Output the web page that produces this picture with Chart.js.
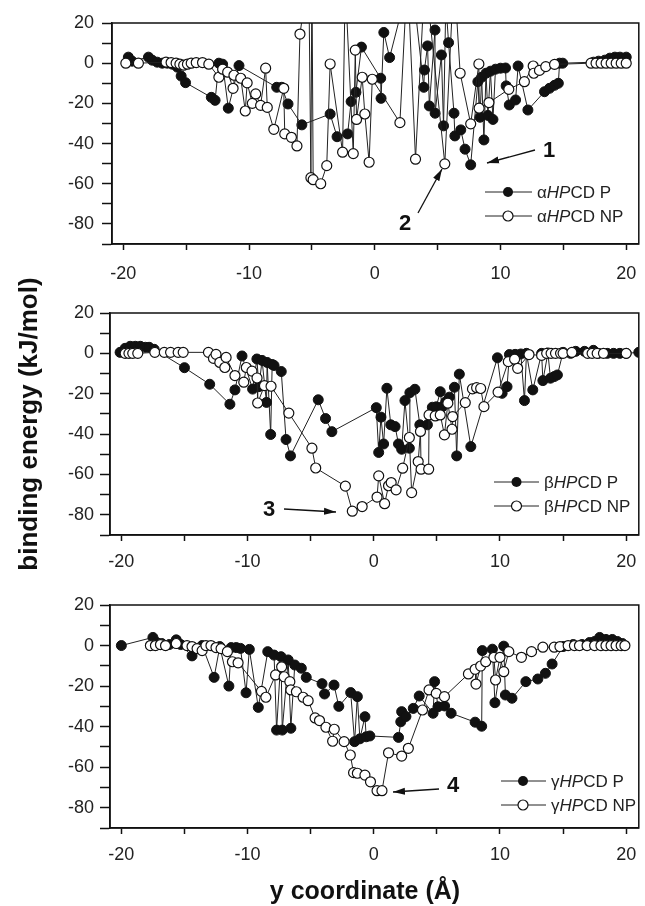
<!DOCTYPE html>
<html>
<head>
<meta charset="utf-8">
<script src="https://cdn.jsdelivr.net/npm/chart.js@4.4.1/dist/chart.umd.min.js"></script>
<style>
body { margin: 0; background: #fff; width: 645px; height: 906px; position: relative; overflow: hidden; font-family: "Liberation Sans", Arial, sans-serif; }
.panel { position: absolute; left: 0; }
svg { position: absolute; left: 0; top: 0; pointer-events: none; }
</style>
</head>
<body>
<div class="panel"><canvas id="c1"></canvas></div>
<div class="panel"><canvas id="c2"></canvas></div>
<div class="panel"><canvas id="c3"></canvas></div>

<svg width="645" height="906" font-family="Liberation Sans, Arial, sans-serif">
  <defs>
    <marker id="ah" viewBox="0 0 12 8" refX="12" refY="4" markerWidth="12" markerHeight="8" orient="auto" markerUnits="userSpaceOnUse">
      <path d="M0,0.5 L12,4 L0,7.5 z" fill="#111"/>
    </marker>
  </defs>

  <!-- legends -->
  <g stroke="#222" stroke-width="1">
    <line x1="485" y1="192" x2="532" y2="192"/><line x1="485" y1="216" x2="532" y2="216"/>
    <line x1="494" y1="482" x2="539" y2="482"/><line x1="494" y1="506" x2="539" y2="506"/>
    <line x1="501" y1="781" x2="546" y2="781"/><line x1="501" y1="805" x2="546" y2="805"/>
  </g>
  <circle cx="508" cy="192" r="5" fill="#111"/>
  <circle cx="508" cy="216" r="5" fill="#fff" stroke="#111" stroke-width="1.2"/>
  <circle cx="516.5" cy="482" r="5" fill="#111"/>
  <circle cx="516.5" cy="506" r="5" fill="#fff" stroke="#111" stroke-width="1.2"/>
  <circle cx="523" cy="781" r="5" fill="#111"/>
  <circle cx="523" cy="805" r="5" fill="#fff" stroke="#111" stroke-width="1.2"/>
  <g font-size="17" fill="#222">
    <text x="537" y="198">α<tspan font-style="italic">HP</tspan>CD P</text>
    <text x="537" y="222">α<tspan font-style="italic">HP</tspan>CD NP</text>
    <text x="544" y="488">β<tspan font-style="italic">HP</tspan>CD P</text>
    <text x="544" y="512">β<tspan font-style="italic">HP</tspan>CD NP</text>
    <text x="551" y="787">γ<tspan font-style="italic">HP</tspan>CD P</text>
    <text x="551" y="811">γ<tspan font-style="italic">HP</tspan>CD NP</text>
  </g>

  <!-- annotations -->
  <g font-size="22" font-weight="bold" fill="#111" text-anchor="middle">
    <text x="549" y="157">1</text>
    <text x="405" y="230">2</text>
    <text x="269" y="516">3</text>
    <text x="453" y="792">4</text>
  </g>
  <g stroke="#111" stroke-width="1.3" marker-end="url(#ah)">
    <line x1="535" y1="150" x2="487" y2="163"/>
    <line x1="418" y1="213" x2="442" y2="169"/>
    <line x1="284" y1="509" x2="336" y2="512"/>
    <line x1="439" y1="789" x2="393" y2="792"/>
  </g>

  <!-- axis titles -->
  <text transform="translate(37,424) rotate(-90)" text-anchor="middle" font-size="26" font-weight="bold" fill="#111">binding energy (kJ/mol)</text>
  <text x="365" y="899" text-anchor="middle" font-size="25" font-weight="bold" fill="#111">y coordinate (Å)</text>
</svg>

<script>
// [x (Å), binding energy (kJ/mol)]
const alphaP = [[-19.6,3],[-19.3,1],[-18.0,3],[-17.7,1.5],[-17.3,0.5],[-16.9,0],[-16.5,0],[-16.1,-0.5],[-15.7,-2],[-15.4,-6.4],[-15.05,-9.7],
  [-13.0,-17],[-12.7,-18.5],[-12.4,0],[-12.1,-0.5],[-11.65,-22.4],[-10.8,-1.2],[-7.8,-12],[-7.4,-12],[-6.9,-20.3],[-5.8,-30.7],
  [-3.55,-25.3],[-3.0,-36.6],[-2.16,-35.2],[-1.88,-19.1],[-1.5,-14.5],[-1.06,8],[0.47,-7.5],[0.5,-17.5],[0.72,15.3],[1.18,2.8],
  [2.9,45],[3.9,-12],[3.95,-3.4],[4.2,8.6],[4.34,-21.3],[4.79,16.5],[4.8,-24.9],[5.3,4.1],[5.47,-31.2],[5.65,30],[5.87,10.2],
  [6.3,-24.9],[6.37,-36.2],[6.84,-33.2],[7.18,-42.8],[7.63,-50.6],[8.2,-9.2],[8.37,-26.9],[8.5,-7],[8.68,-38.2],[8.85,-5],
  [9.0,-26],[9.2,-4],[9.4,-28],[9.6,-3],[10.0,-2.5],[10.4,-2.4],[10.45,-11.3],[10.7,-20.8],[11.2,-18.3],[11.4,-1.4],[12.18,-23.3],
  [13.5,-14.2],[13.9,-12.5],[14.3,-11],[14.6,-10],[14.7,0],[14.95,0],[17.4,0.5],[17.8,1],[18.3,1.5],[18.7,2.5],[19.1,3],[19.5,3],[20.0,3]];

const alphaNP = [[-19.8,0],[-18.8,0],[-16.6,0.5],[-16.2,0.3],[-15.8,0],[-15.5,-0.5],[-15.2,-1],[-14.9,-0.5],[-14.6,0],[-14.2,0.3],[-13.7,0.3],
  [-13.2,-0.5],[-12.4,-7],[-12.1,-3],[-11.7,-4.5],[-11.27,-12.5],[-11.2,-6],[-10.66,-7.5],[-10.3,-23.8],[-10.15,-9.8],[-9.74,-20],
  [-9.47,-15.3],[-9.08,-21],[-8.68,-2.5],[-8.55,-22],[-8.03,-32.9],[-7.24,-12.5],[-7.16,-35.2],[-6.63,-36.9],[-6.19,-41.2],[-5.95,14.5],
  [-5.25,45],[-5.08,-57],[-5.0,45],[-4.9,-58],[-4.3,-60],[-3.82,-51],[-3.55,-0.4],[-2.56,-44.3],[-2.35,40],[-1.71,-45],[-1.55,6.5],
  [-1.45,-28],[-1.0,-7],[-0.79,-25.3],[-0.45,-49.3],[-0.2,-8],[2.0,-29.6],[2.6,45],[3.24,-47.8],[4.0,45],[5.57,-50.1],[6.3,45],
  [6.79,-5],[7.63,-30.2],[8.28,-0.4],[8.3,-22.4],[9.08,-19.6],[10.66,-13],[11.9,-9.2],[12.6,-1.4],[12.65,-5],[13.1,-3.6],[13.6,-1.7],
  [14.3,-0.6],[17.2,0],[17.6,0],[18.0,0],[18.4,0],[18.8,0],[19.2,0],[19.6,0],[20.0,0]];

const betaP = [[-20.1,0.5],[-19.7,2.5],[-19.3,3.5],[-18.9,3.5],[-18.5,3.5],[-18.1,3],[-17.8,3],[-17.4,2],[-15.0,-7.1],[-13.0,-15.3],
  [-11.4,-25.2],[-11.0,-18.1],[-10.44,-1.3],[-9.6,-17.7],[-9.26,-2.8],[-9.1,-16.5],[-8.85,-3.5],[-8.5,-24.3],[-8.45,-4.5],[-8.17,-40.2],
  [-8.05,-5.5],[-7.9,-6],[-7.33,-9],[-6.95,-42.7],[-6.6,-50.8],[-4.4,-23],[-3.82,-32.3],[-3.32,-38.8],[0.2,-26.9],[0.39,-49.1],
  [0.57,-31.6],[0.78,-44.9],[1.04,-17.3],[1.35,-35.4],[1.69,-36.3],[1.96,-44.9],[2.21,-47.5],[2.47,-23.4],[2.82,-47],[2.86,-19.5],
  [3.26,-17.8],[3.65,-35.4],[4.25,-35.4],[4.64,-26.7],[4.95,-26.5],[5.27,-19],[5.42,-26.5],[5.7,-24],[5.99,-21.7],[6.39,-16.8],
  [6.57,-50.8],[6.78,-10.3],[7.69,-46.2],[9.8,-2.2],[10.17,-19.8],[10.56,-16.5],[10.75,-0.6],[11.2,-0.5],[11.65,-0.3],[11.94,-23.4],
  [12.1,0],[12.6,-18.1],[13.3,0],[13.4,-13.5],[13.8,0.2],[14.0,-12.3],[14.3,-11.5],[14.55,-10.7],[15.0,0.5],[15.6,0],[16.0,1],
  [16.7,1],[17.4,1.5],[17.8,0],[18.5,0],[19.0,0],[19.5,0],[20.0,0],[21.0,0.5]];

const betaNP = [[-19.7,0],[-19.4,0],[-19.1,0],[-18.7,0],[-17.35,0.5],[-16.6,0.5],[-16.1,0.5],[-15.5,0.5],[-15.1,0.5],[-13.1,0.5],
  [-12.7,-2.5],[-12.5,-0.5],[-12.2,-4.5],[-11.8,-7],[-11.7,-2],[-11.0,-11],[-10.3,-14.3],[-10.1,-7],[-9.65,-8.8],[-9.25,-12.2],
  [-9.2,-24.6],[-8.66,-16],[-8.14,-16.3],[-6.73,-29.6],[-4.9,-47],[-4.6,-56.8],[-2.25,-65.8],[-1.7,-78.2],[-0.92,-75.9],[0.26,-71.2],
  [0.39,-60.7],[0.86,-74.5],[1.17,-65.6],[1.38,-64],[1.77,-67.6],[2.29,-56.9],[2.82,-41.7],[3.0,-69],[3.52,-53.6],[3.7,-38.7],
  [3.75,-57.4],[4.35,-57.4],[4.38,-30.5],[4.87,-31],[5.27,-30.5],[5.6,-40.4],[5.87,-24.7],[6.2,-37.6],[6.25,-31.3],[7.25,-24.4],
  [7.82,-17.6],[8.15,-17],[8.47,-17.4],[8.73,-26.4],[9.85,-19.2],[10.66,-4.1],[11.16,-2.9],[11.4,-7.4],[12.3,-0.6],[13.3,-1],
  [13.7,0],[14.05,0],[14.4,0],[14.8,0],[15.0,0],[15.7,0.5],[16.95,0],[17.3,0],[17.7,0],[18.2,0],[20.0,0]];

const gammaP = [[-20.0,0],[-17.5,4],[-17.2,1.5],[-16.8,1],[-16.2,0.5],[-15.65,2.8],[-15.3,0.5],[-14.4,-5.1],[-13.6,0],[-12.65,-15.7],
  [-12.2,-0.5],[-11.48,-20],[-11.3,-1],[-10.9,-1],[-10.56,-1.4],[-10.12,-23.3],[-9.86,-1.9],[-9.15,-30.5],[-8.4,-3],[-7.9,-4.7],
  [-7.7,-41.7],[-7.35,-5.5],[-7.25,-41.7],[-6.78,-7.1],[-6.57,-40.8],[-6.26,-9.6],[-5.74,-11.2],[-5.35,-15.7],[-4.1,-18.8],[-3.9,-23.9],
  [-3.15,-19.5],[-2.77,-30],[-1.83,-23.2],[-1.52,-47.4],[-1.3,-25.2],[-1.1,-46],[-0.7,-35.1],[-0.6,-45],[-0.31,-44.6],[1.96,-45.3],
  [2.14,-37.6],[2.21,-32.6],[2.55,-35],[3.13,-31],[3.6,-24.9],[4.7,-33.4],[4.82,-17.8],[5.09,-30.2],[5.61,-29.8],[6.13,-33.4],
  [8.03,-37.8],[8.55,-39.8],[8.6,-2.5],[9.4,-1.8],[9.6,-28.2],[10.3,-0.3],[10.43,-24.4],[10.95,-26],[12.05,-17.8],[13.0,-16.5],
  [13.6,-13.7],[14.13,-9.1],[15.0,-0.5],[15.8,0.5],[16.5,0.5],[17.1,1.5],[17.5,2],[17.9,4],[18.4,3],[18.9,3],[19.3,2],[19.7,1]];

const gammaNP = [[-17.7,0],[-17.3,0],[-16.9,0.5],[-16.5,0],[-15.65,1],[-14.8,0],[-14.4,-0.5],[-14.0,-1.5],[-13.6,-2.5],[-13.3,0],
  [-12.9,0],[-12.5,-1],[-12.1,-1.5],[-11.6,-3],[-11.2,-8],[-10.75,-8.5],[-8.9,-22.6],[-8.55,-25.5],[-7.78,-14.5],[-7.3,-10.5],
  [-7.1,-15.4],[-6.65,-17.8],[-6.57,-21.9],[-6.13,-22.8],[-5.6,-25.5],[-5.2,-27.2],[-4.65,-35.7],[-4.3,-37],[-3.79,-40.3],[-3.26,-47.2],
  [-3.13,-41.3],[-2.35,-47.4],[-1.86,-54],[-1.6,-62.7],[-1.3,-63],[-0.7,-63.9],[-0.26,-67.2],[0.26,-71.6],[0.65,-71.6],[1.17,-52.9],
  [2.21,-54.5],[2.74,-50.7],[3.86,-31.8],[4.38,-21.9],[4.95,-23.6],[5.6,-25.2],[7.5,-14],[8.03,-11.7],[8.1,-19],[8.47,-10.1],
  [8.87,-8],[9.52,-5.8],[9.65,-17],[10.0,-5.8],[10.3,-12.9],[10.7,-3],[11.7,-5.8],[12.5,-3],[13.4,-0.8],[14.3,-0.8],[14.75,-0.5],
  [15.4,0],[15.9,0],[16.3,0],[16.9,0],[17.5,0],[18.0,0],[18.4,0],[18.8,0],[19.2,0],[19.6,0],[19.9,0]];

const xTicksStep = 5
const yTicksStep = 10

const tickFont = { family: '"Liberation Sans", Arial, sans-serif', size: 18 }

// cadre fermé autour de la zone de tracé
const frame = {
  id: 'frame',
  afterDraw(chart) {
    const a = chart.chartArea, ctx = chart.ctx
    ctx.save()
    ctx.strokeStyle = '#111'
    ctx.lineWidth = 1.5
    ctx.strokeRect(a.left, a.top, a.right - a.left, a.bottom - a.top)
    ctx.restore()
  }
}

function toXY(arr) {
  return arr.map(p => ({ x: p[0], y: p[1] }))
}

function makePanel(p) {
  const padTop = 12, xH = 45
  const cv = document.getElementById(p.id)
  cv.width = 645
  cv.height = p.bottom - p.top + padTop + xH
  cv.parentNode.style.top = (p.top - padTop) + 'px'

  new Chart(cv, {
    type: 'scatter',
    data: {
      datasets: [{
        data: toXY(p.open),
        order: 0,
        showLine: true,
        borderColor: '#222',
        borderWidth: 1,
        pointRadius: 5,
        pointBackgroundColor: '#fff',
        pointBorderColor: '#111',
        pointBorderWidth: 1.2,
        clip: { left: 10, right: 0, top: 0, bottom: 10 }
      }, {
        data: toXY(p.fill),
        order: 1,
        showLine: true,
        borderColor: '#222',
        borderWidth: 1,
        pointRadius: 5,
        pointBackgroundColor: '#111',
        pointBorderColor: '#111',
        pointBorderWidth: 1,
        clip: { left: 10, right: 0, top: 0, bottom: 10 }
      }]
    },
    options: {
      responsive: false,
      animation: false,
      devicePixelRatio: 1,
      layout: { padding: { top: padTop, right: 645 - p.right, left: 0, bottom: 0 } },
      plugins: { legend: { display: false }, tooltip: { enabled: false } },
      scales: {
        x: {
          type: 'linear',
          min: -20.9,
          max: 21,
          afterFit(s) { s.height = xH; s.paddingLeft = 0; s.paddingRight = 0 },
          ticks: {
            stepSize: xTicksStep,
            includeBounds: false,
            autoSkip: false,
            maxRotation: 0,
            padding: p.xpad,
            color: '#222',
            font: tickFont,
            callback: v => (v % 10 === 0 ? v : '')
          },
          grid: { drawOnChartArea: false, tickLength: 6, tickWidth: 1.5, tickColor: '#111' },
          border: { color: '#111', width: 1.5 }
        },
        y: {
          min: -90,
          max: 20,
          afterFit(s) { s.width = p.left; s.paddingTop = 0; s.paddingBottom = 0 },
          ticks: {
            stepSize: yTicksStep,
            autoSkip: false,
            padding: p.ypad,
            color: '#222',
            font: tickFont,
            callback: v => (v % 20 === 0 ? v : '')
          },
          grid: { drawOnChartArea: false, tickLength: 10, tickWidth: 1.5, tickColor: '#111' },
          border: { color: '#111', width: 1.5 }
        }
      }
    },
    plugins: [frame]
  })
}

makePanel({ id: 'c1', top: 23, bottom: 244, left: 112, right: 643, fill: alphaP, open: alphaNP, xpad: 13, ypad: 8 })
makePanel({ id: 'c2', top: 313, bottom: 535, left: 110, right: 644, fill: betaP, open: betaNP, xpad: 10, ypad: 6 })
makePanel({ id: 'c3', top: 605, bottom: 828, left: 110, right: 644, fill: gammaP, open: gammaNP, xpad: 10, ypad: 6 })
</script>
</body>
</html>
